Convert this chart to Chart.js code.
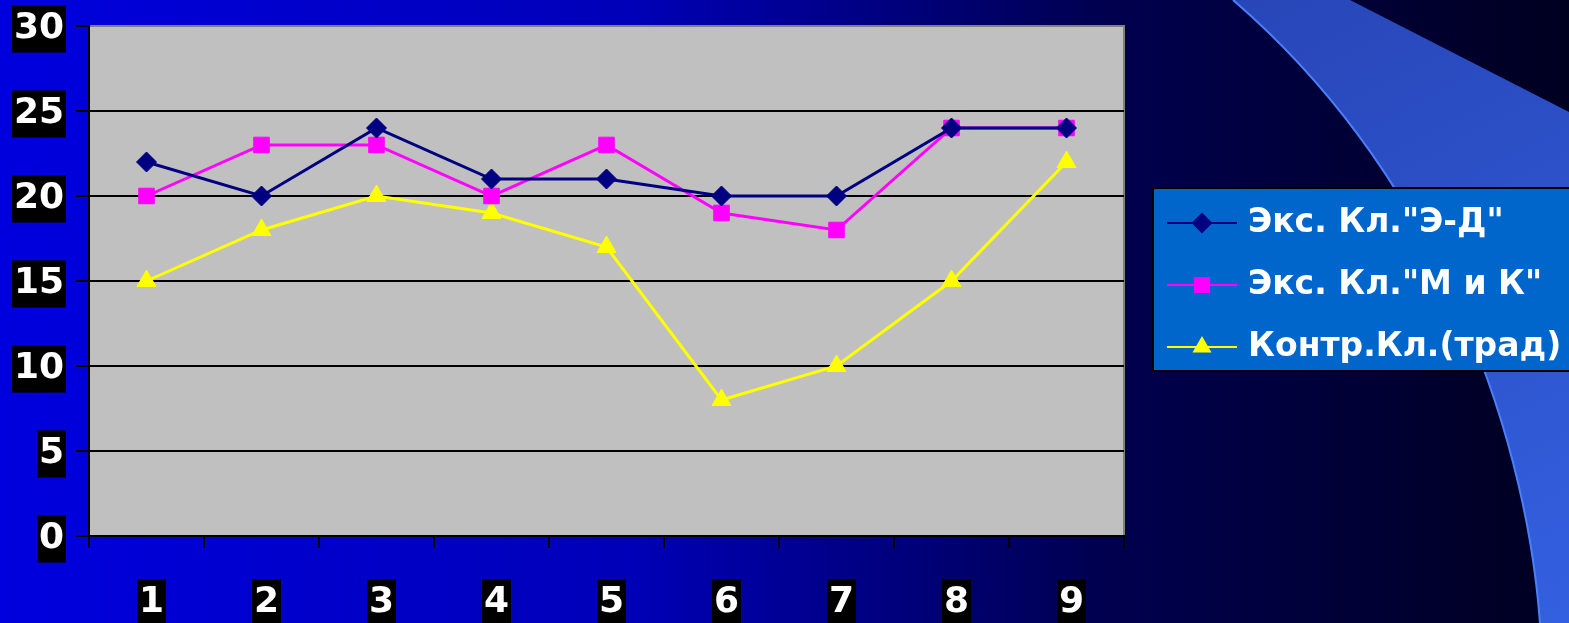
<!DOCTYPE html>
<html>
<head>
<meta charset="utf-8">
<script src="https://cdn.jsdelivr.net/npm/chart.js@4"></script>
<style>
  html, body { margin: 0; padding: 0; background: #000060; }
  #chart { display: block; }
</style>
</head>
<body>
<canvas id="chart" width="1569" height="623"></canvas>
<script>
// chart data
const categories = ['1', '2', '3', '4', '5', '6', '7', '8', '9'];
const seriesNames = ['Экс. Кл."Э-Д"', 'Экс. Кл."М и К"', 'Контр.Кл.(трад)'];
const edValues = [22, 20, 24, 21, 21, 20, 20, 24, 24];
const mkValues = [20, 23, 23, 20, 23, 19, 18, 24, 24];
const tradValues = [15, 18, 20, 19, 17, 8, 10, 15, 22];
const yTicks = [0, 5, 10, 15, 20, 25, 30];

const tickFont = { family: 'DejaVu Sans', weight: 'bold', size: 36 };

// slide background, swoosh and the grey plot area
const backdropPlugin = {
  id: 'backdrop',
  beforeDraw(chart) {
    const { ctx, width, height, chartArea } = chart;
    ctx.save();
    const bg = ctx.createLinearGradient(0, 0, width, 0);
    bg.addColorStop(0, '#0000de');
    bg.addColorStop(0.4, '#0000b8');
    bg.addColorStop(0.7, '#000050');
    bg.addColorStop(1, '#000020');
    ctx.fillStyle = bg;
    ctx.fillRect(0, 0, width, height);

    // blue swoosh on the right
    const sw = ctx.createLinearGradient(1250, 0, 1569, 623);
    sw.addColorStop(0, '#2846b8');
    sw.addColorStop(1, '#3360e0');
    ctx.beginPath();
    ctx.moveTo(1233, 0);
    ctx.lineTo(1350, 0);
    ctx.lineTo(1569, 112);
    ctx.lineTo(1569, 623);
    ctx.lineTo(1540, 623);
    ctx.bezierCurveTo(1525, 420, 1430, 170, 1233, 0);
    ctx.closePath();
    ctx.fillStyle = sw;
    ctx.fill();
    ctx.beginPath();
    ctx.moveTo(1540, 623);
    ctx.bezierCurveTo(1525, 420, 1430, 170, 1233, 0);
    ctx.strokeStyle = '#4a80ff';
    ctx.lineWidth = 2;
    ctx.stroke();

    // plot area
    const { left, top, right, bottom } = chartArea;
    ctx.fillStyle = '#c0c0c0';
    ctx.fillRect(left, top, right - left, bottom - top);
    ctx.strokeStyle = '#808080';
    ctx.lineWidth = 2;
    ctx.strokeRect(left, top, right - left, bottom - top);
    ctx.restore();
  }
};

// legend box to the right of the plot
const legendPlugin = {
  id: 'boxLegend',
  afterDraw(chart) {
    const { ctx } = chart;
    ctx.save();
    ctx.fillStyle = '#0066cc';
    ctx.fillRect(1153, 188, 430, 183);
    ctx.strokeStyle = '#000';
    ctx.lineWidth = 2;
    ctx.strokeRect(1153, 188, 430, 183);

    chart.data.datasets.forEach((ds, i) => {
      const y = 223 + i * 62;
      ctx.strokeStyle = ds.borderColor;
      ctx.lineWidth = 2;
      ctx.beginPath();
      ctx.moveTo(1167, y);
      ctx.lineTo(1237, y);
      ctx.stroke();
      ctx.fillStyle = ds.backgroundColor;
      ctx.strokeStyle = ds.borderColor;
      Chart.helpers.drawPoint(ctx, {
        pointStyle: ds.pointStyle,
        radius: ds.legendRadius,
        borderWidth: 1
      }, 1202, y);
      ctx.fillStyle = '#ffffff';
      ctx.font = 'bold 33px "DejaVu Sans"';
      ctx.textBaseline = 'middle';
      ctx.textAlign = 'left';
      ctx.fillText(ds.label, 1248, y);
    });
    ctx.restore();
  }
};

const ctx = document.getElementById('chart');
new Chart(ctx, {
  type: 'line',
  data: {
    labels: categories,
    datasets: [
      {
        label: seriesNames[0],
        data: edValues,
        borderColor: '#000080',
        backgroundColor: '#000080',
        pointStyle: 'rectRot',
        pointRadius: 10,
        legendRadius: 9,
        borderWidth: 3,
        pointBorderWidth: 1
      },
      {
        label: seriesNames[1],
        data: mkValues,
        borderColor: '#ff00ff',
        backgroundColor: '#ff00ff',
        pointStyle: 'rect',
        pointRadius: 11,
        legendRadius: 10,
        borderWidth: 3,
        pointBorderWidth: 1
      },
      {
        label: seriesNames[2],
        data: tradValues,
        borderColor: '#ffff00',
        backgroundColor: '#ffff00',
        pointStyle: 'triangle',
        pointRadius: 11,
        legendRadius: 9,
        borderWidth: 3,
        pointBorderWidth: 1
      }
    ]
  },
  options: {
    responsive: false,
    animation: false,
    layout: { padding: { top: 26, right: 445, left: 0, bottom: 0 } },
    plugins: {
      legend: { display: false },
      tooltip: { enabled: false }
    },
    elements: { line: { tension: 0 } },
    scales: {
      x: {
        offset: true,
        afterFit: s => { s.height = 87; },
        grid: {
          offset: true,
          drawOnChartArea: false,
          color: '#000',
          lineWidth: 2,
          tickLength: 12
        },
        border: { color: '#000', width: 2 },
        ticks: {
          color: '#fff',
          font: tickFont,
          padding: 33,
          labelOffset: 5,
          showLabelBackdrop: true,
          backdropColor: '#000',
          backdropPadding: 2
        }
      },
      y: {
        min: 0,
        max: 30,
        afterFit: s => {
          s.width = 89;
          s.paddingTop = 0;
          s.paddingBottom = 0;
        },
        afterBuildTicks: s => { s.ticks = yTicks.map(v => ({ value: v })); },
        grid: {
          color: c => (c.tick && c.tick.value === 30 ? '#808080' : '#000'),
          tickColor: '#000',
          lineWidth: 2,
          tickLength: 13
        },
        border: { color: '#000', width: 2 },
        ticks: {
          color: '#fff',
          font: tickFont,
          padding: 12,
          labelOffset: 3,
          showLabelBackdrop: true,
          backdropColor: '#000',
          backdropPadding: 2
        }
      }
    }
  },
  plugins: [backdropPlugin, legendPlugin]
});
</script>
</body>
</html>
